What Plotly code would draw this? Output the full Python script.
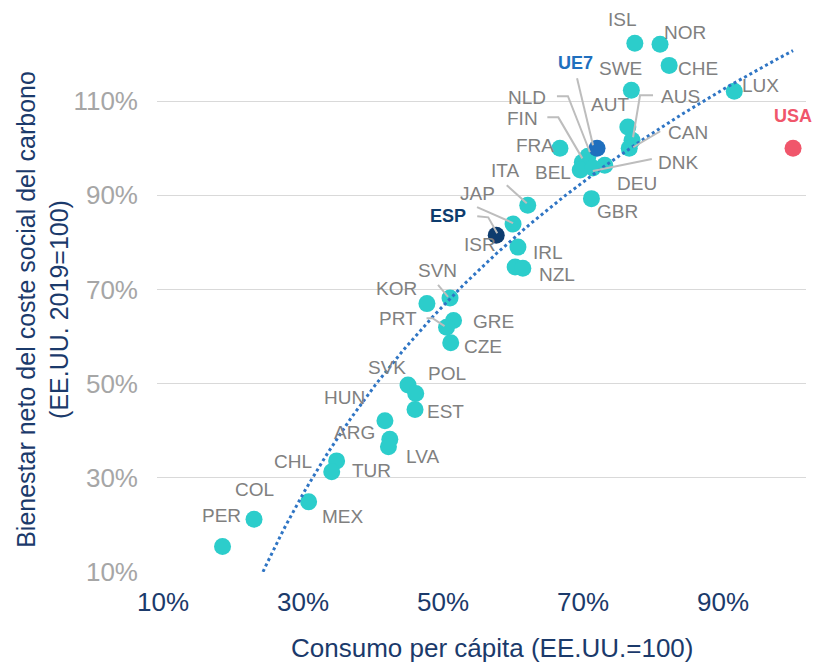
import numpy as np
import plotly.graph_objects as go

# ---------------- data (values in %) ----------------
countries = ["ISL", "NOR", "CHE", "SWE", "LUX", "AUT", "AUS", "CAN", "FRA", "NLD",
             "FIN", "BEL", "DNK", "DEU", "GBR", "ITA", "JAP", "IRL", "ISR", "NZL",
             "SVN", "KOR", "GRE", "PRT", "CZE", "SVK", "POL", "EST", "HUN", "ARG",
             "LVA", "CHL", "TUR", "MEX", "COL", "PER"]
consumo = [77.4, 81.0, 82.3, 76.9, 91.6, 76.4, 77.0, 76.6, 66.7, 70.7,
           69.9, 69.6, 71.4, 73.1, 71.2, 62.1, 60.0, 60.7, 60.3, 61.4,
           51.0, 47.7, 51.5, 50.5, 51.1, 45.0, 46.1, 46.0, 41.7, 42.4,
           42.2, 34.8, 34.1, 30.8, 23.0, 18.5]
bienestar = [122.3, 122.1, 117.6, 112.3, 112.1, 104.5, 101.7, 100.0, 100.0, 98.3,
             97.0, 95.4, 95.8, 96.4, 89.3, 87.9, 83.9, 79.0, 74.8, 74.5,
             68.2, 67.0, 63.4, 62.0, 58.7, 49.7, 47.9, 44.5, 42.1, 38.2,
             36.6, 33.6, 31.3, 24.9, 21.2, 15.4]

highlight_names = ["UE7", "ESP", "USA"]
highlight_consumo = [72.0, 57.6, 100.0]
highlight_bienestar = [100.0, 81.5, 100.0]

x_ticks = [10, 30, 50, 70, 90]
x_tick_labels = ["10%", "30%", "50%", "70%", "90%"]
y_ticks = [10, 30, 50, 70, 90, 110]
y_tick_labels = ["10%", "30%", "50%", "70%", "90%", "110%"]

# ---------------- styling ----------------
FONT = "Liberation Sans, Arial, sans-serif"
TEAL = "#2ccdcb"
NAVY = "#1b3a6b"
LABEL_GREY = "#808080"
LEADER = "#bdbdbd"
highlight_colors = ["#1f6fbe", "#0e3c6e", "#f0566b"]

# label offsets (pixels, screen coords: +x right, +y down) from each point
label_offsets = {
    "ISL": (-12, -24), "NOR": (25, -12), "CHE": (29, 3), "SWE": (-11, -22),
    "LUX": (26, -6), "AUT": (-18, -23), "AUS": (48, -44), "CAN": (59, -16),
    "FRA": (-25, -3), "NLD": (-61, -59), "FIN": (-60, -44), "BEL": (-27, 3),
    "DNK": (85, -6), "DEU": (32, 18), "GBR": (26, 13), "ITA": (-23, -35),
    "JAP": (-36, -31), "IRL": (30, 5), "ISR": (-35, -22), "NZL": (34, 6),
    "SVN": (-13, -27), "KOR": (-30, -15), "GRE": (40, 1), "PRT": (-49, -9),
    "CZE": (32, 4), "SVK": (-21, -18), "POL": (31, -20), "EST": (30, 2),
    "HUN": (-40, -23), "ARG": (-35, -7), "LVA": (34, 10), "CHL": (-44, 1),
    "TUR": (40, -1), "MEX": (34, 15), "COL": (0, -30), "PER": (-1, -31),
    "UE7": (-22, -85), "ESP": (-48, -19), "USA": (0, -32),
}
# leader polylines (pixel offsets from the point, screen coords)
leaders = {
    "UE7": [(-20, -70), (-4, -3)],
    "NLD": [(-31, -60), (-20, -60), (2, -4)],
    "FIN": [(-35, -45), (-24, -45), (0, -4)],
    "AUS": [(21, -45), (8, -45), (1, -3)],
    "CAN": [(31, -17), (4, -1)],
    "DNK": [(59, -9), (0, 3)],
    "ITA": [(-21, -20), (-1, -2)],
    "JAP": [(-36, -17), (0, -1)],
    "ESP": [(-19, -19), (-8, -18), (1, -2)],
    "SVN": [(-12, -13), (-2, -1)],
    "PRT": [(-20, -9), (-14, -9), (-2, -1)],
}

fig = go.Figure()

fig.add_trace(go.Scatter(
    x=consumo, y=bienestar, mode="markers",
    marker=dict(size=17, color=TEAL, line=dict(width=0)),
    hoverinfo="skip", showlegend=False))

fig.add_trace(go.Scatter(
    x=highlight_consumo, y=highlight_bienestar, mode="markers",
    marker=dict(size=17, color=highlight_colors, line=dict(width=0)),
    hoverinfo="skip", showlegend=False))

# logarithmic trend line fitted to all points
all_x = np.array(consumo + highlight_consumo) / 100.0
all_y = np.array(bienestar + highlight_bienestar) / 100.0
a, b = np.polyfit(np.log(all_x), all_y, 1)
tx = np.linspace(all_x.min(), all_x.max(), 200)
ty = a * np.log(tx) + b
fig.add_trace(go.Scatter(
    x=tx * 100, y=ty * 100, mode="lines",
    line=dict(color="#2f75c4", width=3, dash="dot"),
    hoverinfo="skip", showlegend=False))

# labels
points = dict(zip(countries, zip(consumo, bienestar)))
points.update(dict(zip(highlight_names, zip(highlight_consumo, highlight_bienestar))))
hl_color = dict(zip(highlight_names, highlight_colors))

annotations = []
for name, (px, py) in points.items():
    dx, dy = label_offsets[name]
    bold = name in hl_color
    annotations.append(dict(
        x=px, y=py, xref="x", yref="y", text=f"<b>{name}</b>" if bold else name,
        showarrow=False, xshift=dx, yshift=-dy, xanchor="center", yanchor="middle",
        font=dict(family=FONT, size=18 if bold else 19,
                  color=hl_color.get(name, LABEL_GREY))))

shapes = []
for name, pts in leaders.items():
    px, py = points[name]
    path = "M" + " L".join(f"{ox},{-oy}" for ox, oy in pts)
    shapes.append(dict(type="path", xref="x", yref="y", xsizemode="pixel",
                       ysizemode="pixel", xanchor=px, yanchor=py, path=path,
                       line=dict(color=LEADER, width=2), layer="above"))

# axis titles
annotations.append(dict(
    xref="paper", yref="paper", x=0, y=0.464, xshift=-114, showarrow=False,
    textangle=-90, xanchor="center", yanchor="middle",
    text="Bienestar neto del coste social del carbono<br>(EE.UU. 2019=100)",
    font=dict(family=FONT, size=25, color=NAVY)))
annotations.append(dict(
    xref="paper", yref="paper", x=0.516, y=0, yshift=-76, showarrow=False,
    xanchor="center", yanchor="middle",
    text="Consumo per cápita (EE.UU.=100)",
    font=dict(family=FONT, size=26, color=NAVY)))

fig.update_layout(
    width=815, height=664,
    margin=dict(l=157, r=9, t=7, b=92),
    paper_bgcolor="white", plot_bgcolor="white",
    annotations=annotations, shapes=shapes,
    xaxis=dict(range=[9.14, 101.85], tickvals=x_ticks, ticktext=x_tick_labels,
               tickmode="array",
               showgrid=False, zeroline=False, showline=False, ticks="",
               tickfont=dict(family=FONT, size=26, color=NAVY),
               ticklabelstandoff=12),
    yaxis=dict(range=[10, 130], tickvals=y_ticks, ticktext=y_tick_labels,
               tickmode="array",
               showgrid=True, gridcolor="#d9d9d9", gridwidth=1,
               zeroline=False, showline=False, ticks="",
               tickfont=dict(family=FONT, size=26, color="#a6a6a6"),
               ticklabelstandoff=18),
)

fig.write_html("out.html",
               config={"displayModeBar": False},
               post_script="document.body.style.margin='0';document.body.style.overflow='hidden';")
